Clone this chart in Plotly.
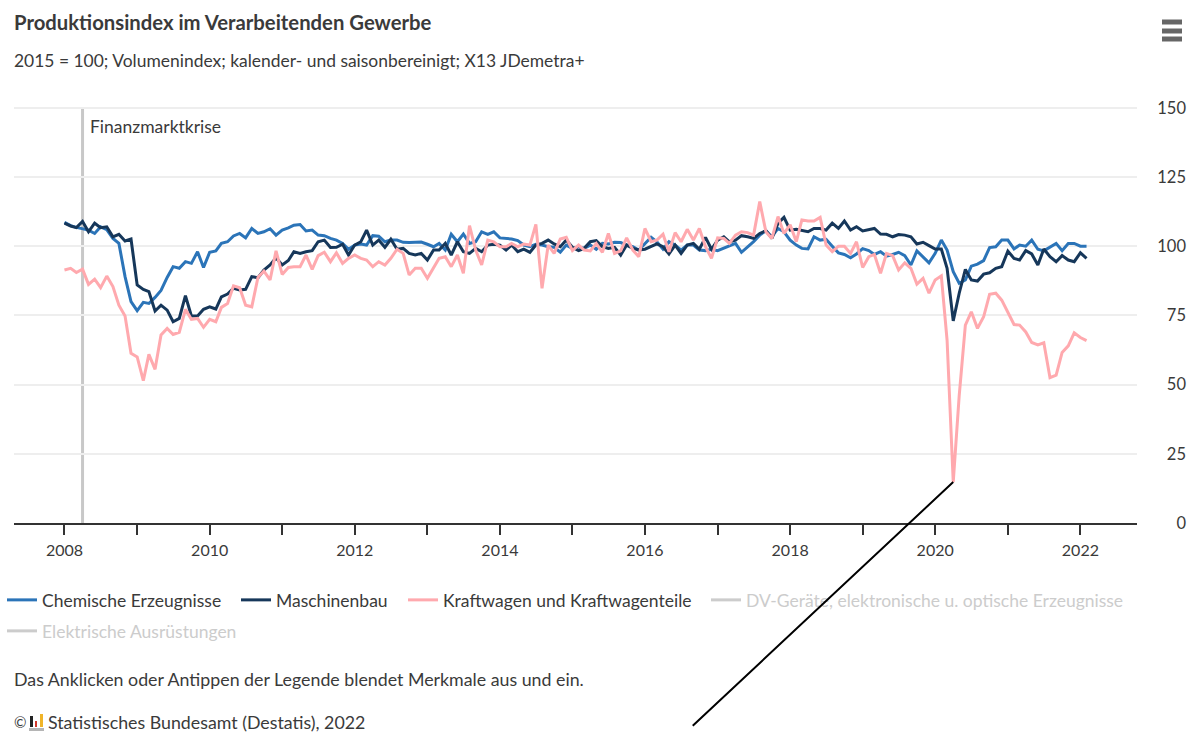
import pandas as pd
import plotly.graph_objects as go

W, H = 1196, 732
ML, MR, MT, MB = 14, 6, 105, 209
FONT = "Lato"
TEXT = "#3a3a3a"

months = pd.date_range("2008-01-01", periods=170, freq="MS")

chemie = [108.6,107.4,106.8,106.2,105.8,104.6,107,106,102.8,101,89,80,76.7,79.7,79.3,81.5,84,88.7,92.6,92,94.4,93.8,98,92.3,97.8,98.3,101,101.6,103.7,104.6,103,106.4,104.6,105.2,106.3,104,105.8,106.6,107.6,107.8,105.5,105.8,104,103.8,102.8,102.2,101,98.9,100.4,100.8,100.4,103.8,103.6,101.6,102.2,102.2,
 101.4,101.3,101.3,101.5,100.7,99.8,101,98.6,104.3,101.6,104.4,101,101.6,105.2,104.3,105.2,103,102.8,102.6,102,100.4,99.8,100.7,100.4,99.8,99.6,97.8,100.4,99.2,99.8,99.2,100.4,98.9,101,100.8,101.4,101.3,100.4,99.8,98.6,101,103.2,101.6,98.9,101.6,100.4,98.6,100.4,100.4,98.6,98.4,98.9,98.4,99.2,100,101,97.8,99.8,101.6,104,105.6,103.4,106.4,105.2,
 102.2,100.4,99.2,99,103.4,102.2,102.5,100,97.6,97,95.8,97.2,99.1,98.4,97,98,96.4,97,97.8,96.6,93.2,98.3,96.2,94,97.4,102.2,98.6,90.8,86.6,87.8,92.8,93.5,94.8,99.5,99.8,102.2,102.2,99,100.4,100,102.2,98.9,98.3,99.8,101,98.4,101,101,100,100]

maschinenbau = [108.3,107.3,106.7,108.9,105.2,108.3,106.7,107,103.4,104.3,101.9,102.6,86,84.4,83.6,76.6,78.7,76.9,72.7,73.9,82.1,74.8,74.8,77.2,78.1,77.3,81.7,82.7,84.8,84.2,84.4,89,88.6,91.4,93.2,95.8,93.2,94.8,98,97.4,98,98.4,101.6,102.2,99.5,99.6,100.7,96.8,100.4,101.6,105.8,100.4,102.2,99.6,102.5,98.9,
 99.2,97.4,96.8,97.4,95,98.6,98.6,101,96.8,101.6,98,97.4,99.2,98,100.4,100.7,100.4,98.6,100.4,98,98.9,97.8,100.4,101,102.2,100.8,99.8,102.2,99.6,98.4,99.2,101.6,102,99.8,99.2,99.6,96.8,100.4,99.2,98.6,98.9,100,100.8,99.8,97.2,100.4,97.4,100.4,101,98.9,103.2,98.9,102.2,103.4,101.6,102.2,103.8,103.4,102.8,104.6,105.6,102.8,108.3,110.4,
 105.8,106.1,105.8,105.2,106.4,106.4,105.8,108.3,106.4,109.1,105.8,107,105.5,106.1,106.4,104.4,104.3,103.4,104.2,104,103.4,100.8,101.4,100.2,99,99,92,73,83,91.6,87.8,87.4,89.9,90.4,92,92.6,98.2,95.6,95,98.4,97.2,93.2,99,96.2,94.4,96.6,95,94.4,97.6,95.6]

kraftwagen = [91.4,92,90.5,91.7,86.2,88.1,85,89.2,85.4,78.7,74.8,61.3,60,51.4,60.9,55.5,67.9,70.3,68.1,68.9,77.2,73.6,73.9,70.7,73.6,72.7,77.9,79.3,85.7,85,78.7,78.1,88.7,91,87.8,98.3,89.8,92.3,92.6,92.6,96.8,91.6,96.6,97.8,94.4,97.6,93.8,95.6,96.8,95.6,95,92.6,94.4,93.2,95.6,98.9,
 97.4,89.6,92,92,88.4,92,95.6,96.2,92.6,96.8,90.2,107.4,98.6,93.2,102.2,101.6,99.8,99.8,101,99.8,100.8,100.4,107.9,84.8,100.4,97.4,102.6,103.2,98.4,100.4,98.6,98.3,101,97.8,104.6,97.4,98.3,103,98.6,96.2,106.4,101.6,102.2,104.3,98,104.9,101.6,106.1,102.2,106.4,99.8,95.6,103,102.8,101,104,105.2,104.9,104,116.1,105.2,102.8,110.7,104.6,
 107.7,101.6,109.5,109.1,109.1,110.4,100.4,98,100,100,97.4,101.6,92.3,96.2,97,90.2,97.4,96.6,91.4,94,92,86.3,88.4,83,87.8,89.3,66,14.8,46,71.5,76.3,70.3,74.5,82.6,83,80.5,76,71.7,71.5,69,65.2,64.3,65.1,52.5,53.4,61.6,64,68.7,67,65.9]

year_ticks = pd.date_range("2008-01-01", "2022-01-01", freq="YS")
year_labels = ["2008","","2010","","2012","","2014","","2016","","2018","","2020","","2022"]
y_ticks = [0, 25, 50, 75, 100, 125, 150]
crisis_date = "2008-04-01"
crisis_label = "Finanzmarktkrise"
low_date = "2020-04-01"

pw, ph = W - ML - MR, H - MT - MB
px = lambda x: (x - ML) / pw
py = lambda y: (H - MB - y) / ph

fig = go.Figure()

series = [
    ("Chemische Erzeugnisse", chemie, "#2b74b8", "legend", 2, 600),
    ("Maschinenbau", maschinenbau, "#16375a", "legend2", 236, 600),
    ("Kraftwagen und Kraftwagenteile", kraftwagen, "#ffa9ae", "legend3", 403, 600),
]
for name, vals, col, lg, _, _ in series:
    fig.add_trace(go.Scatter(x=months, y=vals, name=name, mode="lines", legend=lg,
                             line=dict(color=col, width=3)))
hidden = [
    ("DV-Geräte, elektronische u. optische Erzeugnisse", "legend4", 706, 600),
    ("Elektrische Ausrüstungen", "legend5", 2, 631),
]
for name, lg, _, _ in hidden:
    fig.add_trace(go.Scatter(x=[months[0]], y=[None], name=name, mode="lines", legend=lg,
                             line=dict(color="#cccccc", width=3)))

legend_defs = {}
for name, vals, col, lg, x, y in series:
    legend_defs[lg] = dict(x=x, y=y, color=TEXT)
for name, lg, x, y in hidden:
    legend_defs[lg] = dict(x=x, y=y, color="#cccccc")
layout_legends = {}
for lg, d in legend_defs.items():
    layout_legends[lg] = dict(
        xref="container", yref="container", x=d["x"] / W, y=1 - d["y"] / H,
        xanchor="left", yanchor="middle", bgcolor="rgba(0,0,0,0)", borderwidth=0,
        itemwidth=30, font=dict(family=FONT, size=17.5, color=d["color"]),
        orientation="h",
    )

shapes = [
    dict(type="line", xref="x", yref="y", x0=crisis_date, x1=crisis_date, y0=0, y1=150,
         line=dict(color="#c8c8c8", width=3), layer="below"),
]
for y in (22, 31, 39):
    shapes.append(dict(type="line", xref="paper", yref="paper", x0=px(1162), x1=px(1182), y0=py(y), y1=py(y),
                       line=dict(color="#666666", width=5)))
for x0, x1, y0, y1, c in [(30, 33, 716, 727, "#222222"), (35, 37, 721, 727, "#d2382c"),
                          (40, 43, 714, 727, "#f0b428"), (29, 44, 728, 731, "#b5b5b5")]:
    shapes.append(dict(type="rect", xref="paper", yref="paper", x0=px(x0), x1=px(x1), y0=py(y0), y1=py(y1),
                       line=dict(width=0), fillcolor=c))


def note(text, x, y, size, color=TEXT):
    return dict(text=text, xref="paper", yref="paper", x=px(x), y=py(y), xanchor="left", yanchor="middle",
                showarrow=False, borderpad=0, borderwidth=0, font=dict(family=FONT, size=size, color=color))


annotations = [
    note("<b>Produktionsindex im Verarbeitenden Gewerbe</b>", 14, 22, 20.3),
    note("2015 = 100; Volumenindex; kalender- und saisonbereinigt; X13 JDemetra+", 14, 60, 17.45),
    note(crisis_label, 90, 126, 17.5),
    note("Das Anklicken oder Antippen der Legende blendet Merkmale aus und ein.", 14, 679, 17.8),
    note("©", 14, 722, 15),
    note("Statistisches Bundesamt (Destatis), 2022", 48, 722, 17.8),
    dict(text=" ", x=low_date, y=14.8, xref="x", yref="y", axref="pixel", ayref="pixel", ax=-264, ay=247,
         showarrow=True, arrowhead=0, arrowwidth=2, arrowcolor="#000000", standoff=0, startstandoff=0),
]

fig.update_layout(
    width=W, height=H, autosize=False,
    margin=dict(l=ML, r=MR, t=MT, b=MB),
    paper_bgcolor="#ffffff", plot_bgcolor="#ffffff",
    font=dict(family=FONT, size=16.5, color=TEXT),
    showlegend=True, hovermode="x unified",
    xaxis=dict(
        type="date", domain=[0, (1137 - ML) / pw], range=["2007-04-22", "2022-10-13"],
        tickmode="array", tickvals=list(year_ticks), ticktext=year_labels,
        ticks="outside", ticklen=10, tickwidth=1.5, tickcolor="#333333", ticklabelstandoff=2,
        showgrid=False, showline=True, linecolor="#333333", linewidth=2, zeroline=False,
        tickfont=dict(family=FONT, size=16, color=TEXT),
    ),
    yaxis=dict(
        range=[0, 151], tickmode="array", tickvals=y_ticks, side="left", anchor="free", position=1,
        showgrid=True, gridcolor="#eeeeee", gridwidth=2, showline=False, zeroline=False, ticks="",
        ticklabelstandoff=4, tickfont=dict(family=FONT, size=16.5, color=TEXT),
    ),
    shapes=shapes, annotations=annotations,
    **layout_legends,
)

fig.write_html("out.html", config=dict(displayModeBar=False),
               post_script="document.body.style.margin='0';document.documentElement.style.overflow='hidden';")
